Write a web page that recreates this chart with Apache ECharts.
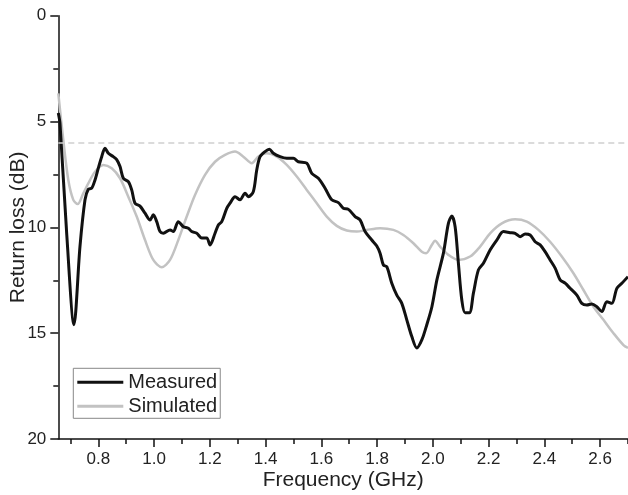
<!DOCTYPE html>
<html>
<head>
<meta charset="utf-8">
<script src="https://cdn.jsdelivr.net/npm/echarts@6/dist/echarts.min.js"></script>
<style>
html,body{margin:0;padding:0;background:#fff;}
#chart{width:628px;height:495px;}
</style>
</head>
<body>
<div id="chart"></div>
<script>
// Frequency (GHz) / return loss (dB)
const measuredFreq = [0.6565,0.6626,0.6866,0.7128,0.7343,0.7523,0.7641,0.7763,0.7882,0.8000,0.8122,0.8240,0.8359,0.8538,0.8660,0.8779,0.8897,0.9076,0.9198,0.9317,0.9496,0.9676,0.9855,0.9973,1.0095,1.0214,1.0332,1.0573,1.0691,1.0870,1.1050,1.1229,1.1351,1.1531,1.1710,1.1889,1.2008,1.2187,1.2306,1.2428,1.2607,1.2725,1.2905,1.3084,1.3264,1.3382,1.3561,1.3683,1.3802,1.3981,1.4135,1.4279,1.4519,1.4760,1.4997,1.5176,1.5477,1.5657,1.5894,1.6134,1.6374,1.6611,1.6790,1.6970,1.7211,1.7389,1.7569,1.7809,1.7989,1.8107,1.8226,1.8348,1.8527,1.8707,1.8886,1.9065,1.9245,1.9424,1.9604,1.9783,1.9966,2.0145,2.0379,2.0558,2.0680,2.0799,2.0917,2.1039,2.1157,2.1312,2.1455,2.1634,2.1814,2.2054,2.2294,2.2531,2.2772,2.2951,2.3130,2.3309,2.3489,2.3668,2.3848,2.4027,2.4206,2.4386,2.4565,2.4745,2.4924,2.5165,2.5344,2.5524,2.5703,2.5882,2.6062,2.6241,2.6421,2.6600,2.6779,2.7000];
const measuredDB = [4.6,5.1,10.3,14.6,10.9,8.7,8.2,8.15,7.76,7.2,6.66,6.26,6.5,6.66,6.8,7.13,7.68,7.84,8.23,8.86,9.0,9.33,9.65,9.41,9.73,10.2,10.28,10.12,10.2,9.73,9.97,10.04,10.2,10.28,10.5,10.5,10.83,10.28,9.89,9.73,9.1,8.86,8.55,8.7,8.39,8.55,8.31,7.29,6.66,6.42,6.31,6.5,6.66,6.74,6.74,6.9,6.97,7.45,7.68,8.15,8.7,8.83,9.1,9.15,9.49,9.65,10.2,10.6,10.88,11.22,11.78,11.86,12.64,13.2,13.59,14.37,15.16,15.7,15.32,14.6,13.75,12.48,11.22,9.81,9.46,9.97,11.7,13.43,14.03,14.03,13.11,12.01,11.7,11.07,10.6,10.2,10.25,10.28,10.44,10.31,10.36,10.68,10.83,11.15,11.54,11.93,12.48,12.64,12.88,13.2,13.59,13.67,13.62,13.75,13.98,13.51,13.59,12.88,12.64,12.33];
const simulatedFreq = [0.6565,0.6744,0.6924,0.7103,0.7261,0.7462,0.7641,0.7882,0.8179,0.8481,0.8779,0.9076,0.9378,0.9676,0.9973,1.0275,1.0573,1.0870,1.1172,1.1469,1.1828,1.2187,1.2546,1.2905,1.3202,1.3504,1.3741,1.4042,1.4401,1.4760,1.5119,1.5477,1.5836,1.6195,1.6554,1.6913,1.7271,1.7630,1.8107,1.8585,1.8943,1.9302,1.9604,1.9758,1.9962,2.0081,2.0260,2.0558,2.0917,2.1337,2.1695,2.2054,2.2474,2.2951,2.3371,2.3787,2.4206,2.4626,2.5043,2.5402,2.5760,2.6119,2.6478,2.6837,2.7000];
const simulatedDB = [3.67,5.87,7.76,8.7,8.9,8.39,7.92,7.37,7.05,7.21,7.68,8.55,9.49,10.6,11.54,11.88,11.54,10.6,9.49,8.47,7.52,6.9,6.58,6.42,6.66,6.97,6.66,6.5,6.66,7.05,7.6,8.23,8.86,9.49,9.93,10.15,10.2,10.12,10.04,10.12,10.36,10.75,11.15,11.22,10.83,10.63,10.91,11.3,11.54,11.38,10.91,10.28,9.81,9.62,9.73,10.12,10.68,11.38,12.17,12.96,13.75,14.37,15.0,15.56,15.7];
const xRange = [0.6565, 2.7];        // full frequency axis
const xMajorRange = [0.8, 2.6];      // labelled ticks, step 0.2
const xMinorRange = [0.7, 2.7];      // unlabelled ticks, step 0.2
const xStep = 0.2;
const refLevel = 6;

const font = 'Liberation Sans, Arial, sans-serif';
const pairs = (xs, ys) => xs.map((x, i) => [x, ys[i]]);

// plot box
const L = 58.3, R = 628, T = 15.7, B = 439;
const pxPerGHz = (R - L) / (xRange[1] - xRange[0]);
const boxFor = (lo, hi) => ({
  left: L + (lo - xRange[0]) * pxPerGHz,
  right: 628 - (L + (hi - xRange[0]) * pxPerGHz),
  top: T, bottom: 495 - B, containLabel: false, outerBoundsMode: 'none'
});

const tickStyle = {color: '#111', width: 1.5};
const chart = echarts.init(document.getElementById('chart'));
chart.setOption({
  animation: false,
  grid: [boxFor(xRange[0], xRange[1]), boxFor(xMinorRange[0], xMinorRange[1]),
         boxFor(xMajorRange[0], xMajorRange[1])],
  xAxis: [
    {
      type: 'value', gridIndex: 0, min: xRange[0], max: xRange[1], position: 'bottom',
      name: 'Frequency (GHz)', nameLocation: 'middle', nameGap: 31, nameMoveOverlap: false,
      nameTextStyle: {fontFamily: font, fontSize: 21, color: '#222'},
      axisLine: {show: true, onZero: false, lineStyle: tickStyle},
      axisTick: {show: false}, axisLabel: {show: false}, splitLine: {show: false}
    },
    {
      // ticks at 0.7, 0.9, ... (short) and, as minor ticks, 0.8, 1.0, ... (long)
      type: 'value', gridIndex: 1, min: xMinorRange[0], max: xMinorRange[1], interval: xStep, position: 'bottom',
      axisLine: {show: false, onZero: false},
      axisTick: {show: true, inside: false, length: 5, lineStyle: tickStyle},
      minorTick: {show: true, splitNumber: 2, length: 8, lineStyle: tickStyle},
      axisLabel: {show: false}, splitLine: {show: false}, minorSplitLine: {show: false}
    },
    {
      type: 'value', gridIndex: 2, min: xMajorRange[0], max: xMajorRange[1], interval: xStep, position: 'bottom',
      axisLine: {show: false, onZero: false},
      axisTick: {show: false},
      axisLabel: {show: true, margin: 12, fontFamily: font, fontSize: 17, color: '#222',
        formatter: v => v.toFixed(1)},
      splitLine: {show: false}
    }
  ],
  yAxis: [{
    type: 'value', min: 0, max: 20, interval: 5, inverse: true, gridIndex: 0,
    name: 'Return loss (dB)', nameLocation: 'middle', nameGap: 30, nameRotate: 90, nameMoveOverlap: false,
    nameTextStyle: {fontFamily: font, fontSize: 21, color: '#222'},
    axisLine: {show: true, onZero: false, lineStyle: tickStyle},
    axisTick: {show: true, inside: false, length: 8, lineStyle: tickStyle},
    minorTick: {show: true, splitNumber: 2, length: 5, lineStyle: tickStyle},
    axisLabel: {margin: 12, fontFamily: font, fontSize: 17, color: '#222'},
    splitLine: {show: false}
  },
  {type: 'value', min: 0, max: 20, inverse: true, gridIndex: 1, show: false},
  {type: 'value', min: 0, max: 20, inverse: true, gridIndex: 2, show: false}],
  legend: {
    orient: 'vertical', left: 73.3, top: 368.3,
    padding: [4, 3, 2, 4], itemGap: 4,
    itemWidth: 46, itemHeight: 3, icon: 'rect',
    borderColor: '#888', borderWidth: 1,
    textStyle: {fontFamily: font, fontSize: 20, color: '#222', lineHeight: 20, padding: [0, 0, 0, 0]},
    data: ['Measured', 'Simulated']
  },
  series: [
    {
      name: 'Simulated', type: 'line', xAxisIndex: 0, yAxisIndex: 0, z: 2,
      data: pairs(simulatedFreq, simulatedDB),
      showSymbol: false, symbol: 'none', smooth: 0.3,
      itemStyle: {color: '#c2c2c2'},
      lineStyle: {color: '#c2c2c2', width: 2.5},
      markLine: {
        silent: true, symbol: 'none', label: {show: false},
        lineStyle: {color: '#cfcfcf', type: [6, 4], width: 1.5},
        data: [{yAxis: refLevel}]
      }
    },
    {
      name: 'Measured', type: 'line', xAxisIndex: 0, yAxisIndex: 0, z: 3,
      data: pairs(measuredFreq, measuredDB),
      showSymbol: false, symbol: 'none', smooth: 0.3,
      itemStyle: {color: '#111'},
      lineStyle: {color: '#111', width: 3}
    }
  ]
});
</script>
</body>
</html>
